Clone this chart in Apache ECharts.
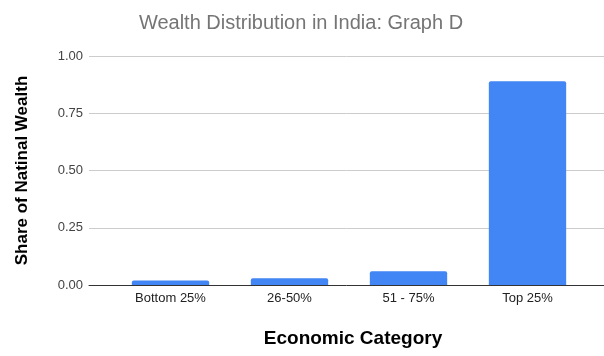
<!DOCTYPE html>
<html>
<head>
<meta charset="utf-8">
<script src="https://cdn.jsdelivr.net/npm/echarts@6/dist/echarts.min.js"></script>
<style>
  html, body { margin: 0; padding: 0; background: #fff; }
  #chart { width: 604px; height: 356px; }
</style>
</head>
<body>
<div id="chart"></div>
<script>
// Share of national wealth held by each quarter of the population
const categories = ['Bottom 25%', '26-50%', '51 - 75%', 'Top 25%'];
const shareValues = [0.02, 0.03, 0.06, 0.89];
const yTicks = [0, 0.25, 0.5, 0.75, 1];

const FONT = '"Liberation Sans", Arial, sans-serif';

const chart = echarts.init(document.getElementById('chart'));
chart.setOption({
  animation: false,
  backgroundColor: '#ffffff',
  title: {
    text: 'Wealth Distribution in India: Graph D',
    left: 296,
    textAlign: 'center',
    top: 8,
    textStyle: { fontFamily: FONT, fontSize: 20, fontWeight: 'normal', color: '#757575' }
  },
  grid: [
    // full-width frame carrying the value axis and gridlines
    { left: 89, right: 0, top: 56, bottom: 71 },
    // inset area holding the category bars
    { left: 111, right: 17, top: 56, bottom: 71 }
  ],
  xAxis: [
    {
      gridIndex: 0, type: 'value', min: 0, max: 1,
      axisLine: { show: true, onZero: false, lineStyle: { color: '#333', width: 1 } },
      axisTick: { show: false }, axisLabel: { show: false }, splitLine: { show: false }
    },
    {
      gridIndex: 1, type: 'category', data: categories,
      axisLine: { show: false }, axisTick: { show: false },
      axisLabel: { fontFamily: FONT, fontSize: 13, color: '#222', margin: 7 },
      name: 'Economic Category', nameLocation: 'middle', nameGap: 44,
      nameTextStyle: { fontFamily: FONT, fontSize: 19, fontWeight: 'bold', color: '#000', padding: [0, 0, 0, 8] }
    }
  ],
  yAxis: [
    {
      gridIndex: 0, type: 'value', min: 0, max: 1, interval: 0.25,
      axisLine: { show: false }, axisTick: { show: false },
      axisLabel: {
        fontFamily: FONT, fontSize: 13, color: '#444', margin: 6,
        formatter: v => yTicks.includes(v) ? v.toFixed(2) : ''
      },
      splitLine: { lineStyle: { color: '#cccccc', width: 1 } },
      name: 'Share of Natinal Wealth', nameLocation: 'middle', nameGap: 58, nameRotate: 90,
      nameTextStyle: { fontFamily: FONT, fontSize: 17, fontWeight: 'bold', color: '#000' }
    },
    {
      gridIndex: 1, type: 'value', min: 0, max: 1, interval: 0.25,
      axisLine: { show: false }, axisTick: { show: false },
      axisLabel: { show: false }, splitLine: { show: false }
    }
  ],
  series: [{
    type: 'bar',
    xAxisIndex: 1, yAxisIndex: 1,
    data: shareValues,
    barWidth: '65%',
    itemStyle: { color: '#4285F4', borderRadius: [2, 2, 0, 0] },
    z: 3
  }]
});
</script>
</body>
</html>
